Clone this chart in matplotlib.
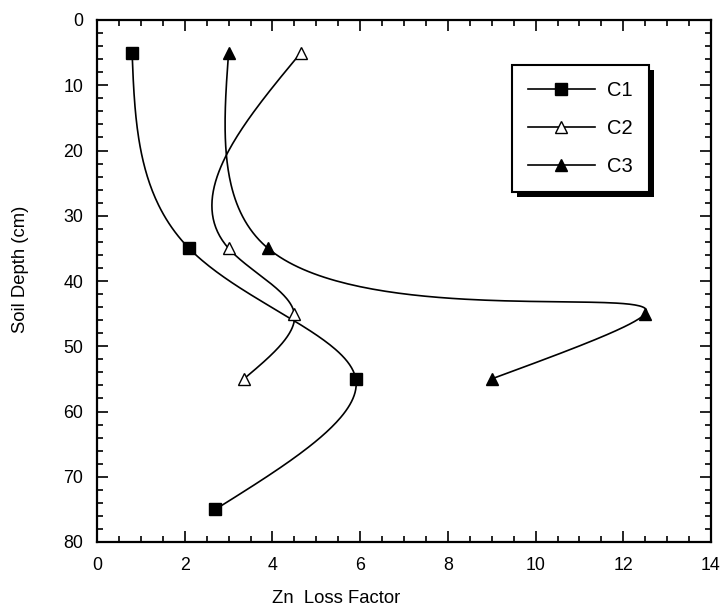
import numpy as np
import matplotlib
matplotlib.use('Agg')
import matplotlib.pyplot as plt
from matplotlib.lines import Line2D
from matplotlib.patches import Rectangle
from matplotlib.ticker import MultipleLocator
from matplotlib.transforms import IdentityTransform

plt.rcParams['font.family'] = ['Liberation Sans', 'DejaVu Sans']

# ---- data ----
series_names = ['C1', 'C2', 'C3']
depth_c1 = [5, 35, 55, 75]
loss_c1 = [0.8, 2.1, 5.9, 2.7]
depth_c2 = [5, 35, 45, 55]
loss_c2 = [4.65, 3.0, 4.5, 3.35]
depth_c3 = [5, 35, 45, 55]
loss_c3 = [3.0, 3.9, 12.5, 9.0]

x_ticks = [0, 2, 4, 6, 8, 10, 12, 14]
y_ticks = [0, 10, 20, 30, 40, 50, 60, 70, 80]

W, H = 723, 609
fig = plt.figure(figsize=(W / 100, H / 100), dpi=100)
ax = fig.add_axes([97 / W, 1 - 542 / H, (711 - 97) / W, (542 - 20) / H])
ax.set_xlim(0, 14)
ax.set_ylim(80, 0)


def natural_spline(t, v, n=80):
    t = np.asarray(t, float)
    v = np.asarray(v, float)
    k = len(t)
    h = np.diff(t)
    d = np.diff(v) / h
    A = np.zeros((k, k))
    b = np.zeros(k)
    A[0, 0] = 1
    A[-1, -1] = 1
    for i in range(1, k - 1):
        A[i, i - 1] = h[i - 1]
        A[i, i] = 2 * (h[i - 1] + h[i])
        A[i, i + 1] = h[i]
        b[i] = 6 * (d[i] - d[i - 1])
    M = np.linalg.solve(A, b)
    out = []
    for i in range(k - 1):
        s = np.linspace(0, h[i], n)
        hi = h[i]
        val = (M[i] * (hi - s) ** 3 / (6 * hi) + M[i + 1] * s ** 3 / (6 * hi)
               + (v[i] / hi - M[i] * hi / 6) * (hi - s)
               + (v[i + 1] / hi - M[i + 1] * hi / 6) * s)
        out.append(val if i == 0 else val[1:])
    return np.concatenate(out)


def smooth_line(xs, ys):
    # smooth curve through the data points, computed in display space
    pts = ax.transData.transform(np.column_stack([xs, ys]))
    seg = np.hypot(*np.diff(pts, axis=0).T)
    t = np.concatenate([[0], np.cumsum(seg)])
    px = natural_spline(t, pts[:, 0])
    py = natural_spline(t, pts[:, 1])
    back = ax.transData.inverted().transform(np.column_stack([px, py]))
    return back[:, 0], back[:, 1]


styles = [
    dict(marker='s', mfc='black', mec='black', ms=9),
    dict(marker='^', mfc='white', mec='black', ms=8.5),
    dict(marker='^', mfc='black', mec='black', ms=9),
]
series = [(loss_c1, depth_c1), (loss_c2, depth_c2), (loss_c3, depth_c3)]

for (xs, ys), st in zip(series, styles):
    sx, sy = smooth_line(xs, ys)
    ax.plot(sx, sy, color='black', lw=1.2, zorder=2)
    ax.plot(xs, ys, linestyle='none', mew=1.0, zorder=3, **st)

ax.set_xticks(x_ticks)
ax.set_yticks(y_ticks)
ax.xaxis.set_minor_locator(MultipleLocator(0.5))
ax.yaxis.set_minor_locator(MultipleLocator(2))
ax.tick_params(which='both', direction='in', top=True, right=True,
               width=1.2, labelsize=12.8, colors='black')
ax.tick_params(which='major', length=8)
ax.tick_params(which='minor', length=4.5)
ax.tick_params(axis='x', pad=11)
ax.tick_params(axis='y', pad=10)
for sp in ax.spines.values():
    sp.set_linewidth(1.6)

ax.set_xlabel('Zn  Loss Factor', fontsize=13.3)
ax.set_ylabel('Soil Depth (cm)', fontsize=13.3)
ax.xaxis.set_label_coords(0.389, -0.092)
ax.yaxis.set_label_coords(-0.111, 0.523)

handles = [Line2D([], [], color='black', lw=1.2, mew=1.0, **st) for st in styles]
leg = ax.legend(handles, series_names, loc='upper left',
                bbox_to_anchor=(0.676, 0.914), borderaxespad=0,
                fontsize=14.5, frameon=True, fancybox=False, framealpha=1,
                edgecolor='black', handlelength=3.3, handletextpad=0.6,
                labelspacing=0.95, borderpad=0.8)
leg.get_frame().set_linewidth(1.5)
leg.set_zorder(6)

fig.canvas.draw()
bb = leg.get_window_extent()
shadow = Rectangle((bb.x0 + 5, bb.y0 - 5), bb.width, bb.height,
                   transform=IdentityTransform(), facecolor='black',
                   edgecolor='none', zorder=5, clip_on=False)
ax.add_artist(shadow)

fig.savefig('out.png', dpi=100)
